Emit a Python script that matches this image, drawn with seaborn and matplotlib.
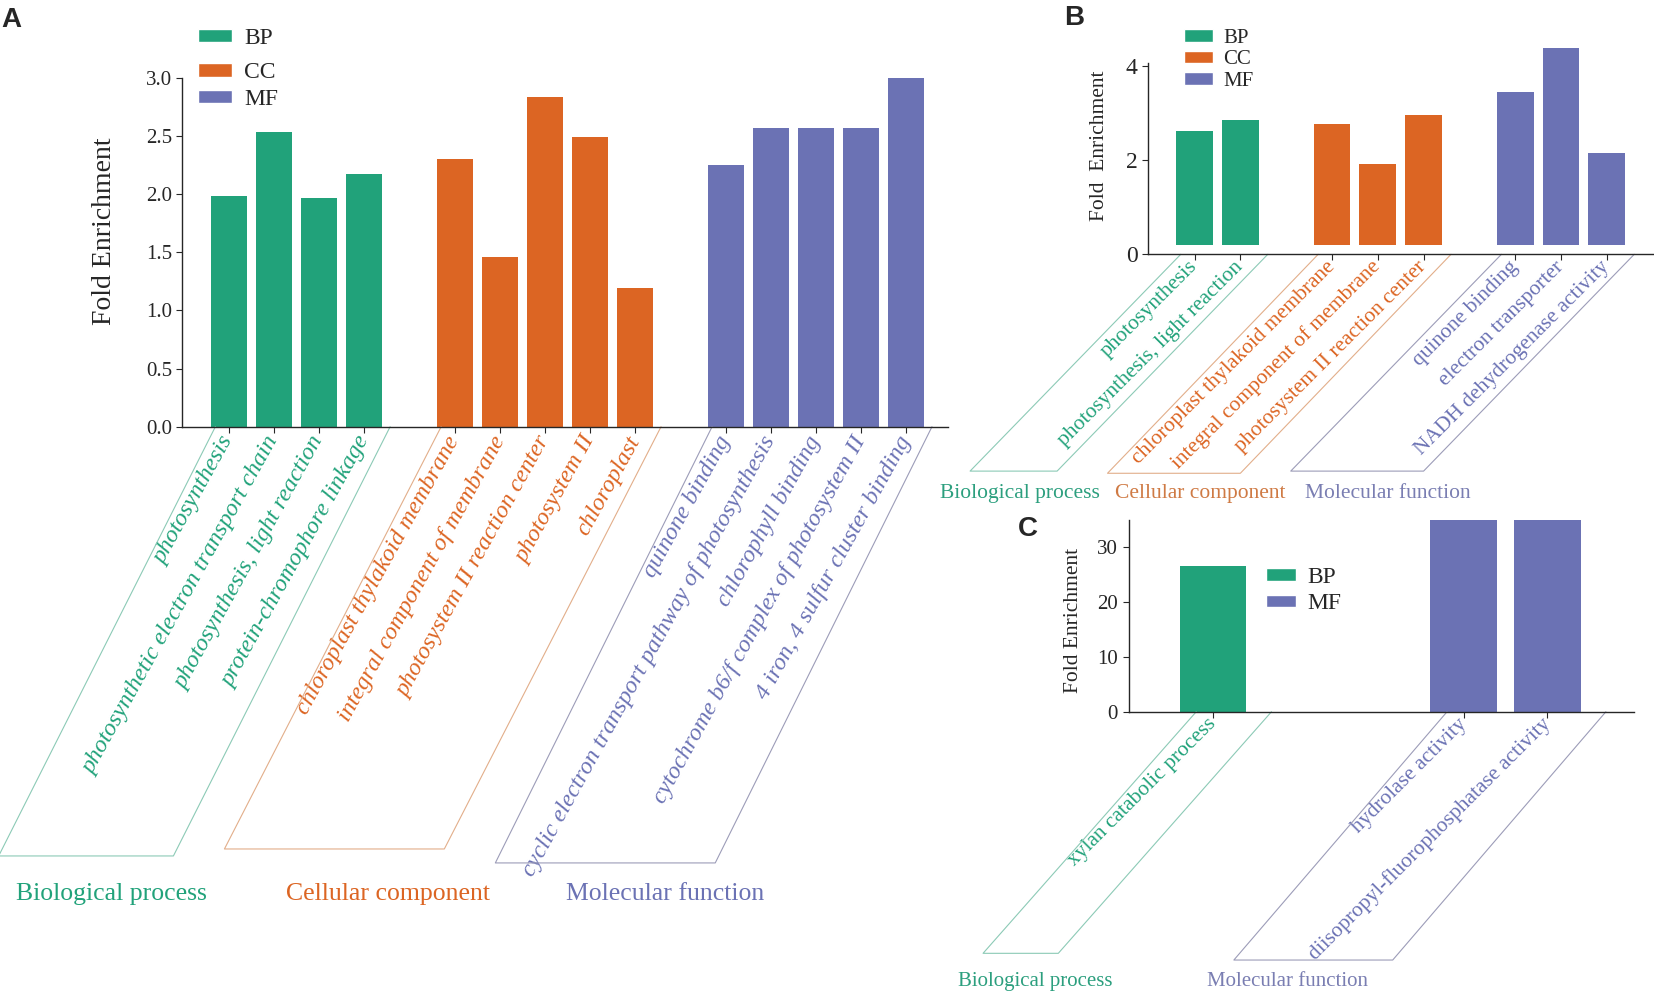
import numpy as np
import pandas as pd
import matplotlib
matplotlib.use('Agg')
import matplotlib.pyplot as plt
import seaborn as sns
from matplotlib.patches import Patch

sns.set_style('ticks')
plt.rcParams['font.family'] = ['Liberation Serif', 'DejaVu Serif']
plt.rcParams['axes.linewidth'] = 1.0
plt.rcParams['xtick.major.size'] = 4
plt.rcParams['ytick.major.size'] = 4

# ---------------- data ----------------
# panel A
a_bp_terms = ['photosynthesis', 'photosynthetic electron transport chain',
              'photosynthesis, light reaction', 'protein-chromophore linkage']
a_bp_vals = [1.98, 2.53, 1.97, 2.17]
a_cc_terms = ['chloroplast thylakoid membrane', 'integral component of membrane',
              'photosystem II reaction center', 'photosystem II', 'chloroplast']
a_cc_vals = [2.30, 1.46, 2.83, 2.49, 1.19]
a_mf_terms = ['quinone binding', 'cyclic electron transport pathway of photosynthesis',
              'chlorophyll binding', 'cytochrome b6/f complex of photosystem II',
              '4 iron, 4 sulfur cluster binding']
a_mf_vals = [2.25, 2.57, 2.57, 2.57, 3.00]

# panel B
b_bp_terms = ['photosynthesis', 'photosynthesis, light reaction']
b_bp_vals = [2.61, 2.85]
b_cc_terms = ['chloroplast thylakoid membrane', 'integral component of membrane',
              'photosystem II reaction center']
b_cc_vals = [2.77, 1.91, 2.96]
b_mf_terms = ['quinone binding', 'electron transporter', 'NADH dehydrogenase activity']
b_mf_vals = [3.45, 4.37, 2.14]

# panel C (no CC terms)
c_bp_terms = ['xylan catabolic process']
c_bp_vals = [26.6]
c_cc_terms = []
c_cc_vals = []
c_mf_terms = ['hydrolase activity', 'diisopropyl-fluorophosphatase activity']
c_mf_vals = [35.0, 35.0]

group_names = {'BP': 'Biological process', 'CC': 'Cellular component', 'MF': 'Molecular function'}

# ---------------- styles ----------------
bar_colors = {'BP': '#21a27a', 'CC': '#dc6523', 'MF': '#6b72b4'}
line_colors = {'BP': '#8ccab6', 'CC': '#e2ae8a', 'MF': '#9c9cb8'}
lab_colors_a = {'BP': '#21a27a', 'CC': '#dc6523', 'MF': '#6b72b4'}
lab_colors_b = {'BP': '#2c9f7e', 'CC': '#cf7a44', 'MF': '#7a7eb2'}


def build_frame(groups):
    """groups: list of (code, terms, values); one empty slot between groups"""
    rows = []
    pos = 0
    for code, terms, vals in groups:
        for t, v in zip(terms, vals):
            rows.append({'pos': pos, 'term': t, 'value': v, 'group': code})
            pos += 1
        pos += 1
    return pd.DataFrame(rows)


def draw_bars(ax, df):
    sns.barplot(data=df, x='pos', y='value', hue='group', palette=bar_colors,
                native_scale=True, dodge=False, width=0.8, saturation=1,
                errorbar=None, legend=False, linewidth=0, ax=ax)
    sns.despine(ax=ax)
    ax.set_xlabel('')


def draw_brackets(ax, df, left_off, right_off, dx, depths, lab_x, lab_y, lab_colors, lab_size):
    codes = list(dict.fromkeys(df['group']))
    for i, code in enumerate(codes):
        sub = df[df['group'] == code]
        x0 = sub['pos'].min() - left_off
        x1 = sub['pos'].max() + right_off
        d = depths[i]
        ax.plot([x0, x0 + dx, x1 + dx, x1], [0, -d, -d, 0], color=line_colors[code],
                lw=0.8, transform=ax.get_xaxis_transform(), clip_on=False)
        ax.text(lab_x[i], lab_y, group_names[code], transform=ax.get_xaxis_transform(),
                ha='center', va='center', color=lab_colors[code], fontsize=lab_size)


def set_term_labels(ax, df, rotation, size, style='normal', pad=3):
    ax.set_xticks(df['pos'])
    ax.set_xticklabels(df['term'], rotation=rotation, ha='right', va='center',
                       rotation_mode='anchor', fontsize=size, style=style)
    ax.tick_params(axis='x', pad=pad)
    for lab, code in zip(ax.get_xticklabels(), df['group']):
        lab.set_color(lab_colors_a[code])


fig = plt.figure(figsize=(16.54, 9.96), dpi=100)
leg_kw = dict(frameon=False, borderpad=0, handletextpad=0.5, borderaxespad=0)

# ---------------- panel A ----------------
df_a = build_frame([('BP', a_bp_terms, a_bp_vals), ('CC', a_cc_terms, a_cc_vals),
                    ('MF', a_mf_terms, a_mf_vals)])
ax_a = fig.add_axes([0.1103, 0.5716, 0.463, 0.3504])
draw_bars(ax_a, df_a)
ax_a.set_xlim(-1.03, 15.93)
ax_a.set_ylim(0, 3.0)
ax_a.set_yticks(np.arange(0, 3.01, 0.5))
ax_a.set_yticklabels([f'{v:.1f}' for v in np.arange(0, 3.01, 0.5)], fontsize=15)
ax_a.set_ylabel('Fold Enrichment', fontsize=20)
ax_a.yaxis.set_label_coords(-0.085, 0.56)
set_term_labels(ax_a, df_a, 61, 17.5, style='italic', pad=4)
draw_brackets(ax_a, df_a, 0.3, 0.57, -4.8, [1.23, 1.21, 1.25],
              [-2.6, 3.52, 9.65], -1.34, lab_colors_a, 18.5)

fig.legend(handles=[Patch(facecolor=bar_colors['BP'], label='BP')], loc='upper left',
           bbox_to_anchor=(0.1197, 0.972), fontsize=17, handlelength=1.45,
           handleheight=0.5, **leg_kw)
fig.legend(handles=[Patch(facecolor=bar_colors[c], label=c) for c in ['CC', 'MF']],
           loc='upper left', bbox_to_anchor=(0.1197, 0.9375), fontsize=17,
           handlelength=1.45, handleheight=0.5, labelspacing=0.235, **leg_kw)

# ---------------- panel B ----------------
df_b = build_frame([('BP', b_bp_terms, b_bp_vals), ('CC', b_cc_terms, b_cc_vals),
                    ('MF', b_mf_terms, b_mf_vals)])
ax_b = fig.add_axes([0.6941, 0.7447, 0.3059, 0.2177])
draw_bars(ax_b, df_b)
bar_floor = 0.2
for p in ax_b.patches:
    h = p.get_height()
    p.set_y(bar_floor)
    p.set_height(h - bar_floor)
ax_b.set_xlim(-1.015, 10.03)
ax_b.set_ylim(0, 4.6)
ax_b.spines['left'].set_bounds(0, 4.05)
ax_b.set_yticks([0, 2, 4])
ax_b.tick_params(axis='y', labelsize=17)
ax_b.set_ylabel('Fold  Enrichment', fontsize=15.5)
ax_b.yaxis.set_label_coords(-0.077, 0.5)
set_term_labels(ax_b, df_b, 45, 15.5, pad=3)
draw_brackets(ax_b, df_b, 0.3, 0.6, -4.6, [1.0, 1.01, 1.0],
              [-3.82, 0.135, 4.22], -1.102, lab_colors_b, 15.5)
fig.legend(handles=[Patch(facecolor=bar_colors[c], label=c) for c in ['BP', 'CC', 'MF']],
           loc='upper left', bbox_to_anchor=(0.7158, 0.971), fontsize=15,
           handlelength=1.4, handleheight=0.53, labelspacing=0.12, **leg_kw)

# ---------------- panel C ----------------
df_c = build_frame([('BP', c_bp_terms, c_bp_vals), ('CC', c_cc_terms, c_cc_vals),
                    ('MF', c_mf_terms, c_mf_vals)])
ax_c = fig.add_axes([0.6823, 0.2854, 0.3058, 0.1925])
draw_bars(ax_c, df_c)
ax_c.set_xlim(-1.01, 5.04)
ax_c.set_ylim(0, 35)
ax_c.set_yticks([0, 10, 20, 30])
ax_c.tick_params(axis='y', labelsize=15)
ax_c.set_ylabel('Fold Enrichment', fontsize=15.5)
ax_c.yaxis.set_label_coords(-0.09, 0.478)
set_term_labels(ax_c, df_c, 45, 15.5, pad=3)
draw_brackets(ax_c, df_c, 0.2, 0.7, -2.55, [1.26, 1.295],
              [-2.13, 0.89], -1.405, lab_colors_b, 15)
fig.legend(handles=[Patch(facecolor=bar_colors[c], label=c) for c in ['BP', 'MF']],
           loc='upper left', bbox_to_anchor=(0.7654, 0.4305), fontsize=17,
           handlelength=1.27, handleheight=0.45, labelspacing=0.22, **leg_kw)

# panel letters
for x, y, s in [(0.001, 0.993, 'A'), (0.6433, 0.995, 'B'), (0.6155, 0.482, 'C')]:
    fig.text(x, y, s, fontfamily='Liberation Sans', fontweight='bold', fontsize=20,
             ha='left', va='top')

fig.savefig('out.png', dpi=100)
